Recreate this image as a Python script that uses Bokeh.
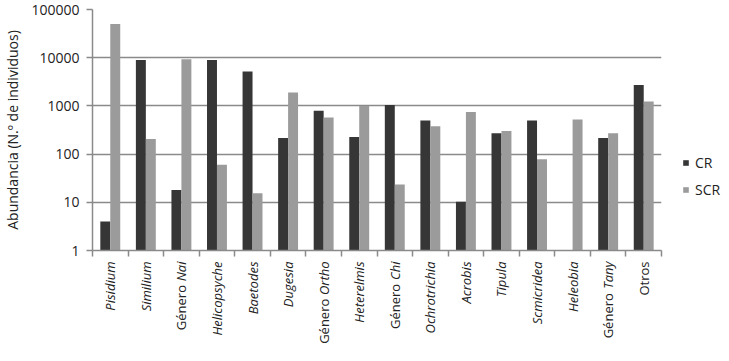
import numpy as np
from bokeh.plotting import figure
from bokeh.layouts import column
from bokeh.core.properties import value
from bokeh.models import (Range1d, FixedTicker, PrintfTickFormatter, Legend, LegendItem,
                          ColumnDataSource)
from bokeh.embed import file_html
from bokeh.resources import INLINE

# ---- data ----
roman_part = ["", "", "Género ", "", "", "", "Género ", "", "Género ", "", "", "", "", "", "Género ", "Otros"]
italic_part = ["Pisidium", "Similium", "Nai", "Helicopsyche", "Baetodes", "Dugesia", "Ortho",
               "Heterelmis", "Chi", "Ochrotrichia", "Acrobis", "Tipula", "Scmicridea",
               "Heleobia", "Tany", ""]
cr = [4, 9000, 18, 9000, 5200, 215, 790, 225, 1040, 500, 10.3, 270, 500, 0, 215, 2700]
scr = [50000, 205, 9300, 60, 15.5, 1900, 575, 1000, 23.5, 380, 750, 300, 78, 520, 270, 1230]
y_ticks = [1, 10, 100, 1000, 10000, 100000]
series_names = ["CR", "SCR"]

FONT = "Open Sans"
CR_COLOR = "#363636"
SCR_COLOR = "#9b9b9b"
GRID = "#8a8a8a"
TXT = "#222222"

n = len(italic_part)
xc = np.arange(n) + 0.5
cr_arr = np.array(cr, dtype=float)
cr_top = np.where(cr_arr > 0, cr_arr, np.nan)
scr_top = np.array(scr, dtype=float)

FW = 569
p = figure(frame_width=FW, frame_height=241, y_axis_type="log",
           x_range=Range1d(0, n), y_range=Range1d(1, 100000),
           output_backend="svg", toolbar_location=None,
           min_border_left=86, min_border_right=58, min_border_top=9, min_border_bottom=0)
p.outline_line_color = None
p.background_fill_color = "white"

src = ColumnDataSource(dict(xcr=xc - 0.14, xscr=xc + 0.14, cr=cr_top, scr=scr_top))
r1 = p.vbar(x="xcr", width=0.28, top="cr", bottom=1, source=src,
            fill_color=CR_COLOR, line_color=None)
r2 = p.vbar(x="xscr", width=0.28, top="scr", bottom=1, source=src,
            fill_color=SCR_COLOR, line_color=None)

# grid
p.xgrid.visible = False
p.ygrid.ticker = FixedTicker(ticks=y_ticks)
p.ygrid.grid_line_color = GRID
p.ygrid.grid_line_width = 1.5
p.ygrid.level = "underlay"

# y axis
ya = p.yaxis[0]
ya.ticker = FixedTicker(ticks=y_ticks, minor_ticks=[])
ya.formatter = PrintfTickFormatter(format="%d")
ya.major_label_text_font = FONT
ya.major_label_text_font_size = "14px"
ya.major_label_text_color = TXT
ya.major_tick_out = 6
ya.major_tick_in = 0
ya.minor_tick_out = 0
ya.minor_tick_in = 0
ya.major_label_standoff = 7
ya.axis_line_color = GRID
ya.axis_line_width = 1.5
ya.major_tick_line_color = GRID
ya.major_tick_line_width = 1.5
ya.axis_label = "Abundancia (N.º de individuos)"
ya.axis_label_text_font = FONT
ya.axis_label_text_font_size = "14px"
ya.axis_label_text_font_style = "normal"
ya.axis_label_text_color = TXT
ya.axis_label_standoff = 6

# x axis (ticks at category boundaries, labels drawn below)
xa = p.xaxis[0]
xa.ticker = FixedTicker(ticks=list(range(n + 1)), minor_ticks=[])
xa.major_label_overrides = {i: " " for i in range(n + 1)}
xa.major_label_text_font_size = "1px"
xa.major_label_standoff = 0
xa.major_tick_out = 6
xa.major_tick_in = 0
xa.minor_tick_out = 0
xa.axis_line_color = GRID
xa.axis_line_width = 1.5
xa.major_tick_line_color = GRID
xa.major_tick_line_width = 1.5

legend = Legend(items=[LegendItem(label=series_names[0], renderers=[r1]),
                       LegendItem(label=series_names[1], renderers=[r2])],
                location=(21, 51), orientation="vertical",
                glyph_width=7, glyph_height=7, label_standoff=6, spacing=7,
                label_text_font=FONT, label_text_font_size="14px", label_text_color=TXT,
                padding=0, margin=0, border_line_color=None, background_fill_alpha=0,
                label_height=20)
p.add_layout(legend, "right")

# ---- category labels strip (mixed roman / italic) ----
ITW = {"N": 1501, "a": 1159, "i": 518, "O": 1555, "r": 813, "t": 655, "h": 1169,
       "o": 1139, "C": 1298, "T": 1128, "n": 1169, "y": 1004}
FS = 13
it_w = [sum(ITW.get(c, 1100) for c in s) / 2048 * FS for s in italic_part]

p2 = figure(frame_width=FW, frame_height=86, x_range=p.x_range, y_range=Range1d(0, 1),
            output_backend="svg", toolbar_location=None,
            min_border_left=86, min_border_right=0, min_border_top=0, min_border_bottom=0)
p2.axis.visible = False
p2.grid.visible = False
p2.outline_line_color = None

lsrc = ColumnDataSource(dict(x=xc, y=np.ones(n), it=italic_part, ro=roman_part,
                             off=np.array(it_w) + 1, base=np.ones(n)))
p2.text(x="x", y="y", text="it", source=lsrc, angle=np.pi / 2, y_offset="base",
        text_align="right", text_baseline="middle", text_font=value(FONT),
        text_font_size=value(f"{FS}px"), text_font_style=value("italic"), text_color=TXT)
p2.text(x="x", y="y", text="ro", source=lsrc, angle=np.pi / 2, y_offset="off",
        text_align="right", text_baseline="middle", text_font=value(FONT),
        text_font_size=value(f"{FS}px"), text_font_style=value("normal"), text_color=TXT)

layout = column(p, p2, spacing=0)
open("out.html", "w").write(file_html(layout, INLINE))
